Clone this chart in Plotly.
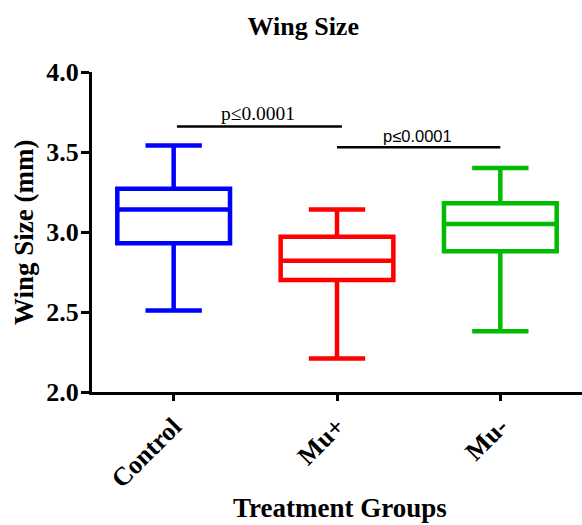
import plotly.graph_objects as go

categories = ["Control", "Mu+", "Mu-"]
lower_whisker = [2.51, 2.21, 2.38]
q1_values = [2.93, 2.70, 2.88]
median_values = [3.14, 2.82, 3.05]
q3_values = [3.27, 2.97, 3.18]
upper_whisker = [3.54, 3.14, 3.40]
colors = ["#0000FF", "#FF0000", "#00BB00"]

sig_starts = [0.02, 1.0]
sig_ends = [1.03, 2.0]
sig_heights = [3.66, 3.53]
sig_labels = ["p≤0.0001", "p≤0.0001"]
sig_fonts = ["Liberation Serif", "Liberation Sans"]
sig_sizes = [19.5, 16.5]

positions = list(range(len(categories)))

fig = go.Figure()
for i, cat in enumerate(categories):
    fig.add_trace(go.Box(
        x=[positions[i]], q1=[q1_values[i]], median=[median_values[i]], q3=[q3_values[i]],
        lowerfence=[lower_whisker[i]], upperfence=[upper_whisker[i]],
        line=dict(color=colors[i], width=4.5), name=cat,
        fillcolor="rgba(0,0,0,0)", width=0.69, whiskerwidth=0.5,
        boxpoints=False, showlegend=False, hoverinfo="skip",
    ))

for s, e, h, lab, fnt, sz in zip(sig_starts, sig_ends, sig_heights, sig_labels, sig_fonts, sig_sizes):
    fig.add_trace(go.Scatter(x=[s, e], y=[h, h], mode="lines",
                             line=dict(color="black", width=2.5),
                             showlegend=False, hoverinfo="skip"))
    fig.add_annotation(x=(s + e) / 2 - 0.01, y=h, text=lab, showarrow=False,
                       yanchor="bottom", yshift=0,
                       font=dict(family=fnt, size=sz, color="black"))

serif = "Liberation Serif"
fig.update_layout(
    width=582, height=525,
    margin=dict(l=92, r=0, t=72, b=133),
    plot_bgcolor="white", paper_bgcolor="white",
    title=dict(text="<b>Wing Size</b>", x=0.521, xref="container", xanchor="center",
               y=1 - 26 / 525, yref="container", yanchor="middle",
               font=dict(family=serif, size=26, color="black")),
)
fig.update_xaxes(
    range=[-0.5, 2.5], automargin=False,
    tickmode="array", tickvals=positions, ticktext=[f"<b>{c}</b>" for c in categories],
    tickangle=-45, tickfont=dict(family=serif, size=26, color="black"),
    showline=True, linecolor="black", linewidth=3,
    ticks="outside", ticklen=6, tickwidth=3, tickcolor="black",
    showgrid=False, zeroline=False,
)
fig.update_yaxes(
    range=[2.0, 4.0], automargin=False, tickvals=[2.0, 2.5, 3.0, 3.5, 4.0],
    ticktext=["<b>2.0</b>", "<b>2.5</b>", "<b>3.0</b>", "<b>3.5</b>", "<b>4.0</b>"],
    tickfont=dict(family=serif, size=26, color="black"),
    showline=True, linecolor="black", linewidth=3,
    ticks="outside", ticklen=8, tickwidth=3, tickcolor="black",
    ticklabelstandoff=-3,
    showgrid=False, zeroline=False,
)
fig.add_annotation(text="<b>Treatment Groups</b>", xref="paper", yref="paper",
                   x=(340 - 92) / 490, y=0, yshift=-(525 - 392), yanchor="bottom",
                   showarrow=False, font=dict(family=serif, size=27, color="black"))
fig.add_annotation(text="<b>Wing Size (mm)</b>", xref="paper", yref="paper",
                   x=0, xshift=-(92 - 24), y=(392 - 233) / 320, textangle=-90,
                   xanchor="center", yanchor="middle",
                   showarrow=False, font=dict(family=serif, size=27, color="black"))

fig.write_html("out.html", config={"displayModeBar": False},
               post_script="document.body.style.margin='0';document.body.style.overflow='hidden';")
